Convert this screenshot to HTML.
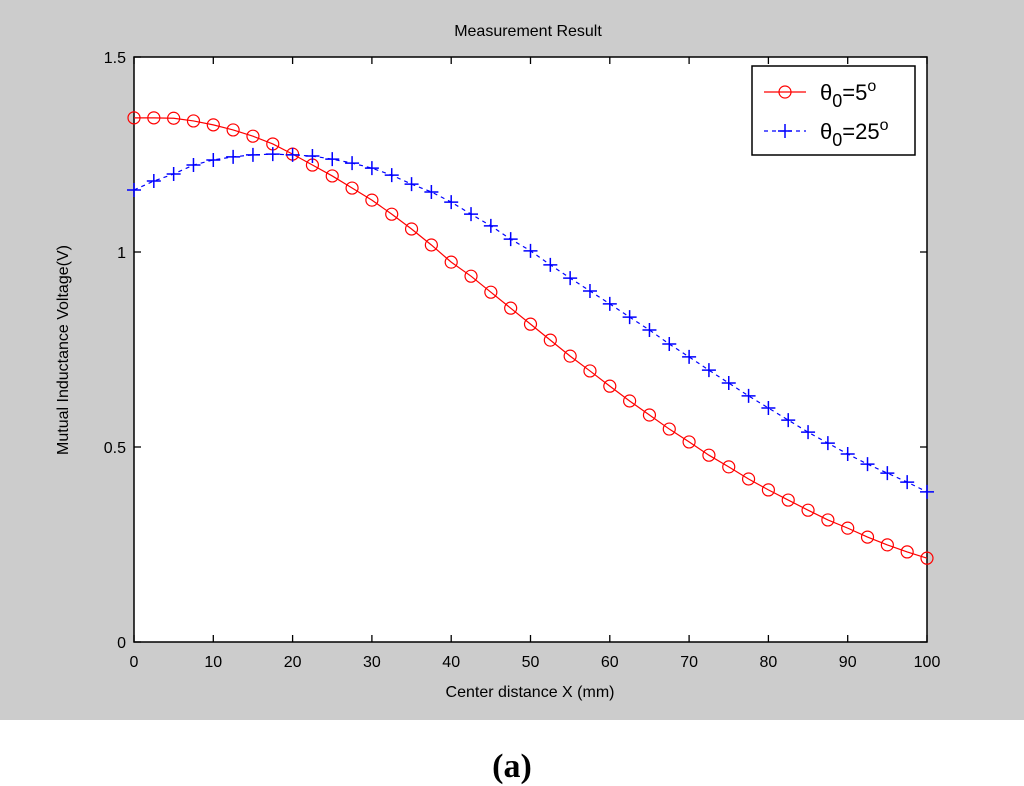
<!DOCTYPE html>
<html><head><meta charset="utf-8"><style>
body{margin:0;width:1024px;height:786px;background:#fff;overflow:hidden}
svg{display:block}
text{font-family:"Liberation Sans",sans-serif;font-size:16px;fill:#000}
</style></head><body>
<svg width="1024" height="786">
<rect x="0" y="0" width="1024" height="720" fill="#cccccc"/>
<rect x="134" y="57" width="793" height="585" fill="#fff" stroke="#000" stroke-width="1.5"/>
<g id="ticks"></g>
<g id="series"></g>
<text x="528" y="36" text-anchor="middle">Measurement Result</text>
<text x="530" y="697" text-anchor="middle">Center distance X (mm)</text>
<text transform="translate(68,350) rotate(-90)" text-anchor="middle">Mutual Inductance Voltage(V)</text>
<g>
<rect x="752" y="66" width="163" height="89" fill="#fff" stroke="#000" stroke-width="1.5"/>
<g>
<line x1="764" y1="92" x2="806" y2="92" stroke="#f00" stroke-width="1.2"/>
<circle cx="785" cy="92" r="6" fill="none" stroke="#f00" stroke-width="1.2"/>
<text x="820" y="100" style="font-size:22px">θ<tspan style="font-size:18px" dy="7">0</tspan><tspan dy="-7">=5</tspan><tspan style="font-size:16px" dy="-9">o</tspan></text>
</g>
<g>
<line x1="764" y1="131" x2="806" y2="131" stroke="#00f" stroke-width="1.2" stroke-dasharray="4,4"/>
<line x1="778" y1="131" x2="792" y2="131" stroke="#00f" stroke-width="1.5"/>
<line x1="785" y1="124" x2="785" y2="138" stroke="#00f" stroke-width="1.5"/>
<text x="820" y="139" style="font-size:22px">θ<tspan style="font-size:18px" dy="7">0</tspan><tspan dy="-7">=25</tspan><tspan style="font-size:16px" dy="-9">o</tspan></text>
</g>
</g>
<text x="512" y="777" text-anchor="middle" style="font-family:'Liberation Serif',serif;font-size:34px;font-weight:bold">(a)</text>
</svg>
<script>
const xValues=[0,2.5,5,7.5,10,12.5,15,17.5,20,22.5,25,27.5,30,32.5,35,37.5,40,42.5,45,47.5,50,52.5,55,57.5,60,62.5,65,67.5,70,72.5,75,77.5,80,82.5,85,87.5,90,92.5,95,97.5,100];
const theta5=[1.344,1.344,1.343,1.336,1.326,1.313,1.297,1.277,1.251,1.223,1.195,1.164,1.133,1.097,1.059,1.018,0.974,0.938,0.897,0.856,0.815,0.774,0.733,0.695,0.656,0.618,0.582,0.546,0.513,0.479,0.449,0.418,0.390,0.364,0.338,0.313,0.292,0.269,0.249,0.231,0.215];
const theta25=[1.159,1.182,1.200,1.223,1.236,1.244,1.249,1.251,1.249,1.246,1.238,1.228,1.215,1.197,1.174,1.154,1.128,1.097,1.067,1.033,1.003,0.967,0.933,0.900,0.867,0.833,0.800,0.764,0.731,0.697,0.664,0.631,0.600,0.569,0.538,0.510,0.482,0.456,0.433,0.410,0.385];
const xTicks=[0,10,20,30,40,50,60,70,80,90,100];
const yTicks=[0,0.5,1,1.5];
const yTickLabels=["0","0.5","1","1.5"];
const NS="http://www.w3.org/2000/svg";
const X=v=>134+v/100*793, Y=v=>642-v/1.5*585;
function mk(t,a,p){const e=document.createElementNS(NS,t);for(const k in a)e.setAttribute(k,a[k]);p.appendChild(e);return e;}
const tg=document.getElementById('ticks');
xTicks.forEach(v=>{
 const l=mk('line',{x1:X(v),x2:X(v),y1:642,y2:635,stroke:'#000','stroke-width':1.3},tg);
 
 
 mk('line',{x1:X(v),x2:X(v),y1:57,y2:64,stroke:'#000','stroke-width':1.3},tg);
 const t=mk('text',{x:X(v),y:667,'text-anchor':'middle'},tg);t.textContent=v;
 
 
});
yTicks.forEach((v,i)=>{
 const l=mk('line',{x1:134,x2:141,y1:Y(v),y2:Y(v),stroke:'#000','stroke-width':1.3},tg);
 
 
 mk('line',{x1:920,x2:927,y1:Y(v),y2:Y(v),stroke:'#000','stroke-width':1.3},tg);
 const t=mk('text',{x:126,y:Y(v)+6,'text-anchor':'end'},tg);t.textContent=yTickLabels[i];
 
 
});
const sg=document.getElementById('series');
const p1=mk('polyline',{points:xValues.map((x,i)=>X(x)+','+Y(theta5[i])).join(' '),fill:'none',stroke:'#f00','stroke-width':1.2},sg);


const p2=mk('polyline',{points:xValues.map((x,i)=>X(x)+','+Y(theta25[i])).join(' '),fill:'none',stroke:'#00f','stroke-width':1.2,'stroke-dasharray':'4,4'},sg);


xValues.forEach((x,i)=>{
 const c=mk('circle',{cx:X(x),cy:Y(theta5[i]),r:6,fill:'none',stroke:'#f00','stroke-width':1.2},sg);
 
 
 const cx=X(x),cy=Y(theta25[i]);
 const m=mk('path',{d:`M${cx-7},${cy}H${cx+7}M${cx},${cy-7}V${cy+7}`,stroke:'#00f','stroke-width':1.5},sg);
 
 
});
</script>
</body></html>
